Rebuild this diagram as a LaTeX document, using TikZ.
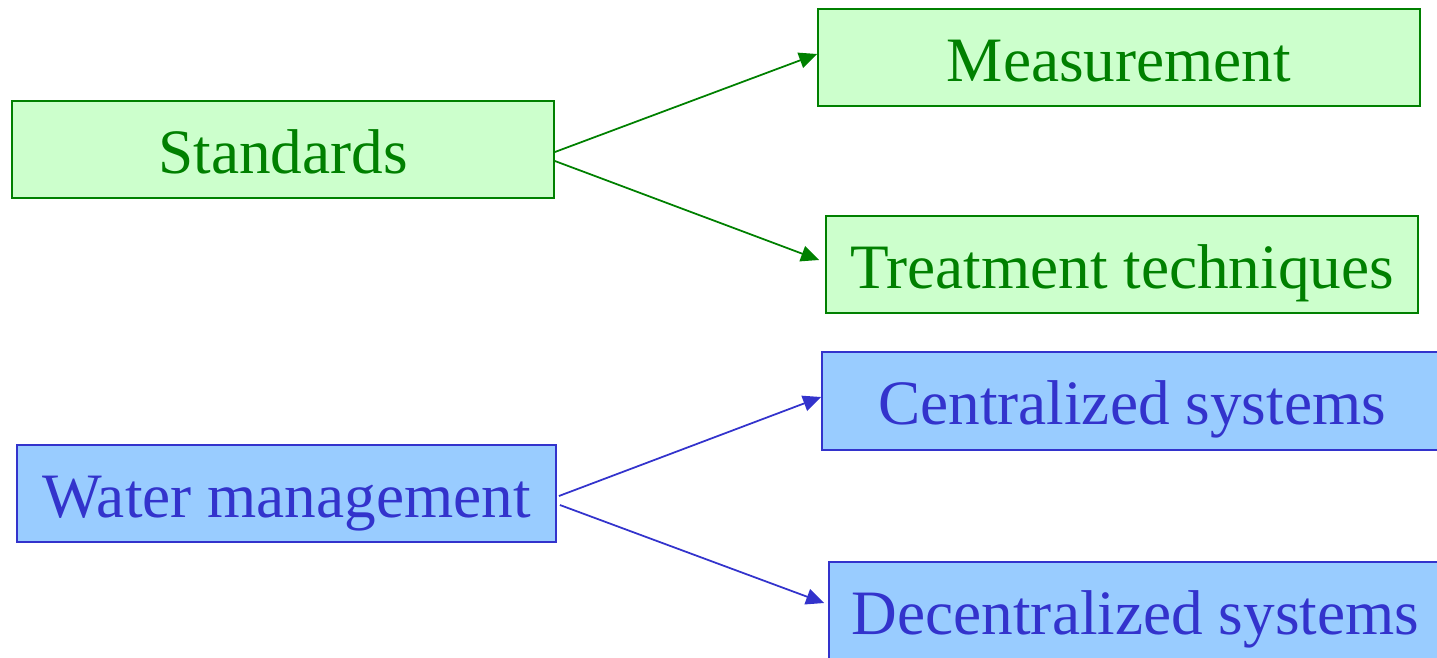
\documentclass[tikz,border=0pt]{standalone}
\usepackage{fontspec}
\setmainfont{Liberation Serif}
\usetikzlibrary{arrows.meta}

\definecolor{stdgreen}{HTML}{008000}
\definecolor{stdfill}{HTML}{CCFFCC}
\definecolor{wblue}{HTML}{3333CC}
\definecolor{wfill}{HTML}{99CCFF}

\begin{document}
\begin{tikzpicture}[x=0.02cm, y=-0.02cm]
\tikzstyle{every node}=[font=\fontsize{36}{40}\selectfont, inner sep=0pt,
    text height=34pt, text depth=7pt, minimum height=1.94cm, line width=1.1pt]
\tikzstyle{gbox}=[draw=stdgreen, fill=stdfill, text=stdgreen]
\tikzstyle{bbox}=[draw=wblue, fill=wfill, text=wblue]
\tikzstyle{garrow}=[draw=stdgreen, line width=1pt, -{Triangle[length=3.6mm, width=3.2mm]}]
\tikzstyle{barrow}=[draw=wblue, line width=1pt, -{Triangle[length=3.6mm, width=3.2mm]}]

\useasboundingbox (0, 0) rectangle (1437, 657);
\clip (0, 0) rectangle (1437, 657);

% standards
\node[gbox, minimum width=10.84cm] (std) at (283, 149.5) {Standards};
\node[gbox, minimum width=12.04cm] (meas) at (1119, 57.5) {Measurement};
\node[gbox, minimum width=11.84cm] (treat) at (1122, 264.5) {Treatment techniques};

\draw[garrow] ([yshift=-0.05cm]std.east) -- ([yshift=0.07cm]meas.west);
\draw[garrow] ([yshift=-0.23cm]std.east) -- ([xshift=-0.12cm, yshift=0.09cm]treat.west);

% water management
\node[bbox, minimum width=10.78cm] (water) at (286.5, 493.5) {Water management};
\node[bbox, minimum width=12.4cm, minimum height=1.96cm] (cent) at (1132, 401) {Centralized systems};
\node[bbox, minimum width=12.26cm, minimum height=1.96cm] (decent) at (1135.5, 611) {Decentralized systems};

\draw[barrow] ([xshift=0.04cm, yshift=-0.05cm]water.east) -- ([yshift=0.08cm]cent.west);
\draw[barrow] ([xshift=0.06cm, yshift=-0.23cm]water.east) -- ([xshift=-0.08cm, yshift=0.16cm]decent.west);

\end{tikzpicture}
\end{document}
